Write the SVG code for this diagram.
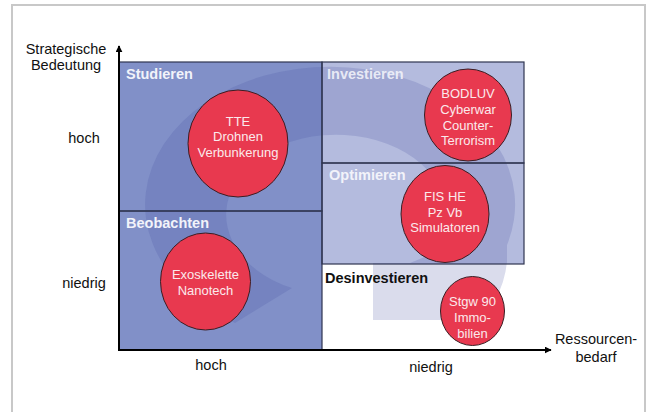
<svg xmlns="http://www.w3.org/2000/svg" width="651" height="412" viewBox="0 0 651 412">
<style>
.ax{font-family:"Liberation Sans",Arial,sans-serif;font-size:14.5px;fill:#111;}
.ql{font-family:"Liberation Sans",Arial,sans-serif;font-size:14.5px;font-weight:bold;fill:#f2f3fa;}
.qd{font-family:"Liberation Sans",Arial,sans-serif;font-size:14.5px;font-weight:bold;fill:#111;}
.ct{font-family:"Liberation Sans",Arial,sans-serif;font-size:13px;fill:#fbe9ec;text-anchor:middle;}
.bub{fill:#e8394f;stroke:#3a1e24;stroke-width:1;}
.box{stroke:#2f3550;stroke-width:1.2;}
.axl{stroke:#000;stroke-width:2;fill:none;}
</style>
<defs>
<clipPath id="qclip"><rect x="119" y="62" width="405" height="288"/></clipPath>
<marker id="ah" viewBox="0 0 10 10" refX="9" refY="5" markerWidth="7" markerHeight="7" markerUnits="userSpaceOnUse" orient="auto"><path d="M0,0 L10,5 L0,10 Z" fill="#000"/></marker>
</defs>
<rect width="651" height="412" fill="#fff"/>
<rect x="12" y="5" width="633" height="420" fill="none" stroke="#c8c8c8" stroke-width="2"/>

<g id="quadrants">
<rect x="119" y="62" width="203" height="149" fill="#8190c8"/>
<rect x="119" y="211" width="203" height="139" fill="#8190c8"/>
<rect x="322" y="62" width="202" height="101" fill="#b4bbde"/>
<rect x="322" y="163" width="202" height="101" fill="#b4bbde"/>
</g>

<g id="watermark" clip-path="url(#qclip)">
<path d="M235,323 A185,138 0 1 1 507,245 L507,262 Q502,305 472,320 L373,320 L373,263 L410,263 L432,254 A110,80 0 1 0 292,288 Z" fill="#4650a0" fill-opacity="0.2"/>
</g>

<g id="quadrant-borders" fill="none">
<rect class="box" x="119" y="62" width="203" height="149"/>
<rect class="box" x="119" y="211" width="203" height="139"/>
<rect class="box" x="322" y="62" width="202" height="101"/>
<rect class="box" x="322" y="163" width="202" height="101"/>
</g>

<g id="connectors">
<line class="axl" x1="119" y1="351" x2="119" y2="46" marker-end="url(#ah)"/>
<line class="axl" x1="118" y1="350" x2="551" y2="350" marker-end="url(#ah)"/>
</g>

<g id="axis-labels">
<text class="ax" x="66" y="54" text-anchor="middle">Strategische</text>
<text class="ax" x="66" y="70" text-anchor="middle">Bedeutung</text>
<text class="ax" x="84" y="143" text-anchor="middle">hoch</text>
<text class="ax" x="84" y="288" text-anchor="middle">niedrig</text>
<text class="ax" x="211" y="370" text-anchor="middle">hoch</text>
<text class="ax" x="431" y="372" text-anchor="middle">niedrig</text>
<text class="ax" x="596" y="344" text-anchor="middle">Ressourcen-</text>
<text class="ax" x="596" y="362" text-anchor="middle">bedarf</text>
</g>

<g id="quadrant-labels">
<text class="ql" x="126" y="79">Studieren</text>
<text class="ql" x="126" y="228">Beobachten</text>
<text class="ql" x="327" y="79" fill-opacity="0.9">Investieren</text>
<text class="ql" x="329" y="180">Optimieren</text>
<text class="qd" x="325" y="283">Desinvestieren</text>
</g>

<g id="node-tte">
<ellipse class="bub" cx="238" cy="143.5" rx="50" ry="53.5"/>
<text class="ct" x="238" y="125.5">TTE</text>
<text class="ct" x="238" y="141">Drohnen</text>
<text class="ct" x="238" y="156.5">Verbunkerung</text>
</g>

<g id="node-bodluv">
<ellipse class="bub" cx="468" cy="115" rx="43.5" ry="46"/>
<text class="ct" x="468" y="97.5">BODLUV</text>
<text class="ct" x="468" y="113.5">Cyberwar</text>
<text class="ct" x="468" y="129.5">Counter-</text>
<text class="ct" x="468" y="145">Terrorism</text>
</g>

<g id="node-fis">
<ellipse class="bub" cx="445" cy="214" rx="44" ry="48.5"/>
<text class="ct" x="445" y="200.5">FIS HE</text>
<text class="ct" x="445" y="216.5">Pz Vb</text>
<text class="ct" x="445" y="232">Simulatoren</text>
</g>

<g id="node-exo">
<ellipse class="bub" cx="205.5" cy="281.5" rx="45" ry="48.5"/>
<text class="ct" x="205.5" y="278.5">Exoskelette</text>
<text class="ct" x="205.5" y="294.5">Nanotech</text>
</g>

<g id="node-stgw">
<ellipse class="bub" cx="472.5" cy="311" rx="32" ry="34.5"/>
<text class="ct" x="472.5" y="306">Stgw 90</text>
<text class="ct" x="472.5" y="322">Immo-</text>
<text class="ct" x="472.5" y="337.5">bilien</text>
</g>
</svg>
